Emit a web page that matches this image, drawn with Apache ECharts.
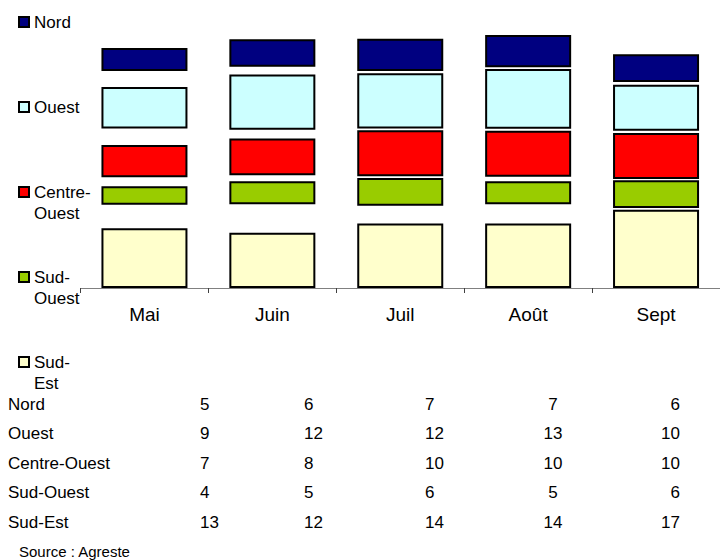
<!DOCTYPE html>
<html>
<head>
<meta charset="utf-8">
<script src="https://cdn.jsdelivr.net/npm/echarts@6/dist/echarts.min.js"></script>
<style>
html,body{margin:0;padding:0;background:#fff;}
#c{width:720px;height:560px;}
</style>
</head>
<body>
<div id="c"></div>
<script>
// ---- data ----
const categories = ['Mai', 'Juin', 'Juil', 'Août', 'Sept'];
const nord        = [5, 6, 7, 7, 6];
const ouest       = [9, 12, 12, 13, 10];
const centreOuest = [7, 8, 10, 10, 10];
const sudOuest    = [4, 5, 6, 5, 6];
const sudEst      = [13, 12, 14, 14, 17];
// blank spacing between the stacked blocks (in value units)
const gapSEtoSO = [5.1, 6.2, 3.9, 4.2, 0.4];
const gapSOtoCO = [2.0, 1.3, 0.4, 1.0, 0.3];
const gapCOtoO  = [3.6, 1.9, 0.4, 0.4, 0.5];
const gapOtoN   = [3.5, 1.7, 0.5, 0.4, 0.6];
const seriesNames = ['Nord', 'Ouest', 'Centre-Ouest', 'Sud-Ouest', 'Sud-Est'];
const legendLines = [['Nord'], ['Ouest'], ['Centre-', 'Ouest'], ['Sud-', 'Ouest'], ['Sud-', 'Est']];
const sourceText = 'Source : Agreste';

// ---- styles / layout ----
const FONT = '"Liberation Sans", Arial, sans-serif';
const colors = {
  'Nord': '#000080', 'Ouest': '#CCFFFF', 'Centre-Ouest': '#FF0000',
  'Sud-Ouest': '#99CC00', 'Sud-Est': '#FFFFCC'
};
const tableRowY0 = 404, tableRowStep = 29.6;
const tableColX = [200, 304, 425, 553, 680];
const tableColAlign = ['left', 'left', 'left', 'center', 'right'];

const valuesByName = {
  'Nord': nord, 'Ouest': ouest, 'Centre-Ouest': centreOuest,
  'Sud-Ouest': sudOuest, 'Sud-Est': sudEst
};

function dataSeries(name) {
  return {
    name: name, type: 'bar', stack: 'all', barWidth: 86,
    data: valuesByName[name],
    itemStyle: { color: colors[name], borderColor: '#000', borderWidth: 2 },
    emphasis: { disabled: true }, silent: true
  };
}
function gapSeries(id, data) {
  return {
    id: id, type: 'bar', stack: 'all', barWidth: 86, data: data,
    itemStyle: { color: 'rgba(0,0,0,0)', borderWidth: 0 },
    emphasis: { disabled: true }, silent: true
  };
}

const series = [
  dataSeries('Sud-Est'),
  gapSeries('g1', gapSEtoSO),
  dataSeries('Sud-Ouest'),
  gapSeries('g2', gapSOtoCO),
  dataSeries('Centre-Ouest'),
  gapSeries('g3', gapCOtoO),
  dataSeries('Ouest'),
  gapSeries('g4', gapOtoN),
  dataSeries('Nord')
];

// legend label: blank line on top so the first text line sits level with the icon
function legendText(name) {
  const lines = legendLines[seriesNames.indexOf(name)].slice();
  while (lines.length < 2) lines.push('\u00a0');
  return '\u00a0\n' + lines.join('\n');
}

// data table below the chart
const graphicEls = [];
seriesNames.forEach(function (name, i) {
  const y = tableRowY0 + i * tableRowStep;
  graphicEls.push({
    type: 'text', x: 8, y: y, silent: true,
    style: { text: name, fontSize: 17, fontFamily: FONT, fill: '#000', align: 'left', verticalAlign: 'middle' }
  });
  valuesByName[name].forEach(function (v, j) {
    graphicEls.push({
      type: 'text', x: tableColX[j], y: y, silent: true,
      style: { text: String(v), fontSize: 17, fontFamily: FONT, fill: '#000', align: tableColAlign[j], verticalAlign: 'middle' }
    });
  });
});
graphicEls.push({
  type: 'text', x: 19, y: 551, silent: true,
  style: { text: sourceText, fontSize: 15, fontFamily: FONT, fill: '#000', align: 'left', verticalAlign: 'middle' }
});

const chart = echarts.init(document.getElementById('c'), null, { renderer: 'svg' });
chart.setOption({
  animation: false,
  backgroundColor: '#fff',
  grid: { left: 80.5, top: 12, width: 647.5, height: 276, containLabel: false },
  legend: {
    orient: 'vertical', left: 18, top: -9.5, padding: 0,
    itemGap: 22, itemWidth: 10, itemHeight: 10, icon: 'rect',
    selectedMode: false,
    itemStyle: { borderColor: '#000', borderWidth: 2 },
    data: seriesNames,
    formatter: legendText,
    textStyle: { fontSize: 17, fontFamily: FONT, color: '#000', lineHeight: 21 }
  },
  xAxis: {
    type: 'category', data: categories,
    axisLine: { show: true, lineStyle: { color: '#808080', width: 1 } },
    axisTick: { show: true, length: 5, lineStyle: { color: '#404040' } },
    axisLabel: { fontSize: 19, fontFamily: FONT, color: '#000', margin: 17 },
    splitLine: { show: false }
  },
  yAxis: {
    type: 'value', min: 0, max: 60, show: false, splitLine: { show: false }
  },
  series: series,
  graphic: { elements: graphicEls }
});
</script>
</body>
</html>
